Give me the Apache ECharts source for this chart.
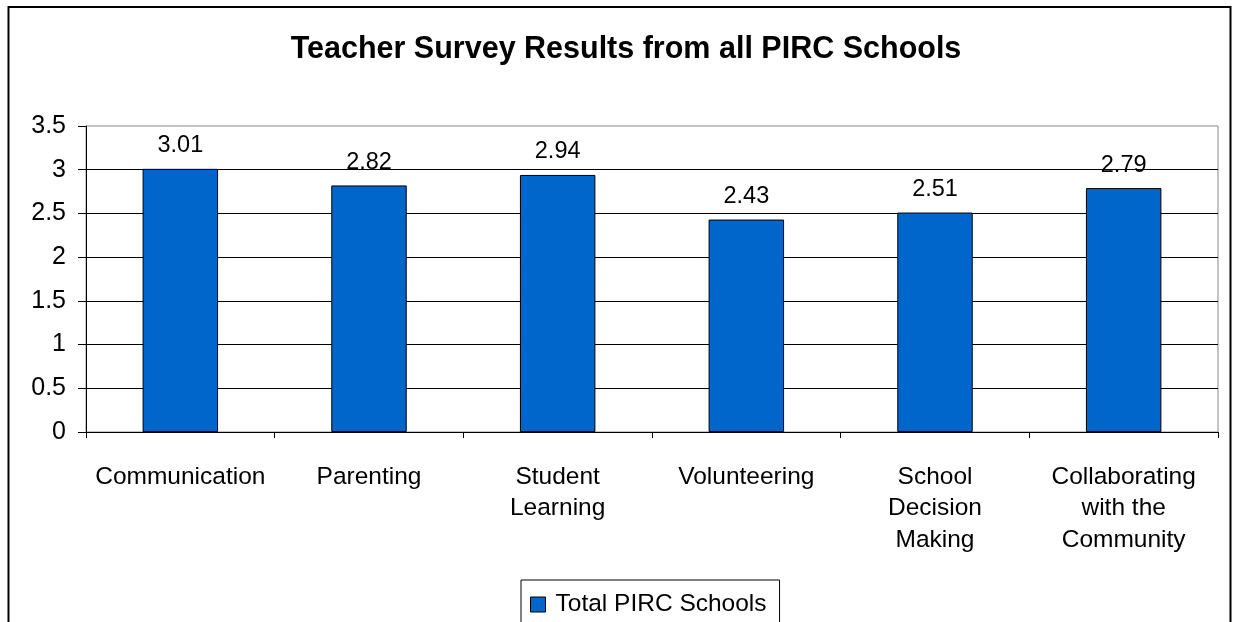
<!DOCTYPE html>
<html>
<head>
<meta charset="utf-8">
<script src="https://cdn.jsdelivr.net/npm/echarts@6/dist/echarts.min.js"></script>
<style>
html,body{margin:0;padding:0;background:#fff;}
#c{width:1235px;height:622px;}
</style>
</head>
<body>
<div id="c"></div>
<script>
const categories = ["Communication", "Parenting", "Student\nLearning", "Volunteering", "School\nDecision\nMaking", "Collaborating\nwith the\nCommunity"];
const values = [3.01, 2.82, 2.94, 2.43, 2.51, 2.79];
const seriesName = "Total PIRC Schools";
const titleText = "Teacher Survey Results from all PIRC Schools";
const yMin = 0, yMax = 3.5, yInterval = 0.5;

const FONT = "Liberation Sans, Arial, sans-serif";
const chart = echarts.init(document.getElementById('c'), null, {renderer: 'canvas'});
chart.setOption({
  animation: false,
  backgroundColor: '#fff',
  graphic: [{
    type: 'rect', z: -1, silent: true,
    shape: {x: 8.5, y: 7, width: 1222, height: 640},
    style: {fill: 'none', stroke: '#000', lineWidth: 2}
  }],
  title: {
    text: titleText, left: 621, top: 29, textAlign: 'center',
    textStyle: {fontFamily: FONT, fontSize: 30.5, fontWeight: 'bold', color: '#000'}
  },
  legend: {
    data: [seriesName], left: 521, top: 580,
    padding: [12, 13, 20, 9],
    borderColor: '#000', borderWidth: 1,
    itemWidth: 15, itemHeight: 15,
    icon: 'rect',
    itemStyle: {borderColor: '#000', borderWidth: 1},
    textStyle: {fontFamily: FONT, fontSize: 24.5, color: '#000', padding: [0, 0, 0, 5]}
  },
  grid: {left: 86, right: 17, top: 126, bottom: 190, show: true, borderColor: '#888', borderWidth: 1},
  xAxis: {
    type: 'category', data: categories,
    axisLine: {lineStyle: {color: '#000', width: 1}},
    axisTick: {show: true, length: 6, alignWithLabel: false, lineStyle: {color: '#000'}},
    axisLabel: {fontFamily: FONT, fontSize: 24.5, color: '#000', margin: 29, lineHeight: 31.5, interval: 0, align: 'center'}
  },
  yAxis: {
    type: 'value', min: yMin, max: yMax, interval: yInterval,
    axisLine: {show: true, lineStyle: {color: '#000', width: 1}},
    axisTick: {show: true, length: 8, lineStyle: {color: '#000'}},
    axisLabel: {fontFamily: FONT, fontSize: 25, color: '#000', margin: 20},
    splitLine: {show: true, showMaxLine: false, lineStyle: {color: '#000', width: 1}}
  },
  series: [{
    name: seriesName, type: 'bar', data: values, barWidth: '40%',
    itemStyle: {color: '#0066CC', borderColor: '#000', borderWidth: 1},
    label: {show: true, position: 'top', distance: 11, fontFamily: FONT, fontSize: 23.5, color: '#000', formatter: p => p.value.toFixed(2)}
  }]
});
</script>
</body>
</html>
